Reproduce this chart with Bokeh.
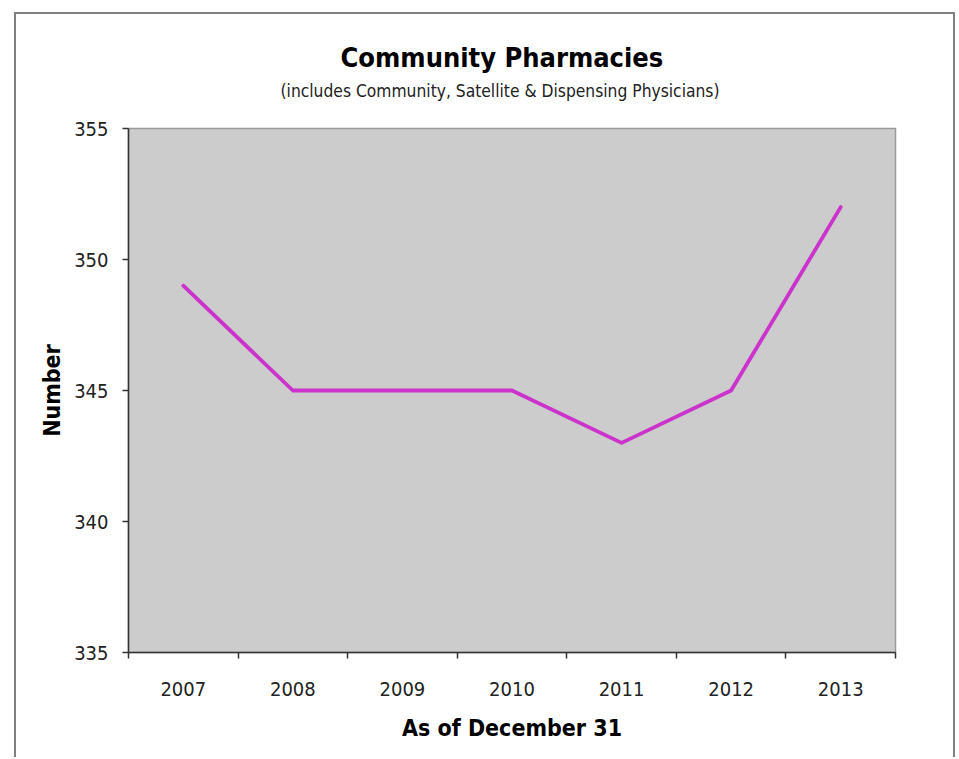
from bokeh.plotting import figure
from bokeh.models import Range1d, FixedTicker, Title
from bokeh.embed import file_html
from bokeh.resources import INLINE

# ---- data ----
years = ["2007", "2008", "2009", "2010", "2011", "2012", "2013"]
counts = [349, 345, 345, 345, 343, 345, 352]
y_ticks = [335, 340, 345, 350, 355]
title_text = "Community Pharmacies"
subtitle_text = "(includes Community, Satellite & Dispensing Physicians)"
x_title = "As of December 31"
y_title = "Number"

FONT = "'DejaVu Sans Condensed', 'Liberation Sans', sans-serif"

n = len(years)
x_pos = [i + 0.5 for i in range(n)]
boundaries = list(range(n + 1))

p = figure(
    frame_width=767, frame_height=524,
    x_range=Range1d(0, n), y_range=Range1d(y_ticks[0], y_ticks[-1]),
    output_backend="svg", toolbar_location=None,
    min_border_left=112, min_border_right=58,
    min_border_top=114, min_border_bottom=105,
)
p.margin = (12, 0, 0, 14)
p.styles = {"border": "2px solid #808080", "border-bottom": "none"}
p.background_fill_color = "#cccccc"
p.border_fill_color = "white"
p.outline_line_color = "#9a9a9a"
p.outline_line_width = 1.5
p.xgrid.visible = False
p.ygrid.visible = False

p.line(x_pos, counts, line_color="#cc33cc", line_width=3.8,
       line_cap="round", line_join="round")

# x axis: labels at category centres, ticks at boundaries
xa = p.xaxis[0]
xa.ticker = FixedTicker(ticks=x_pos, minor_ticks=boundaries)
xa.major_label_overrides = {x: y for x, y in zip(x_pos, years)}
xa.major_tick_line_color = None
xa.minor_tick_line_color = "#333333"
xa.minor_tick_line_width = 1.5
xa.minor_tick_out = 6
xa.minor_tick_in = 0
xa.major_label_standoff = 23
xa.axis_label = x_title
xa.axis_label_standoff = 16

ya = p.yaxis[0]
ya.ticker = FixedTicker(ticks=y_ticks)
ya.minor_tick_line_color = None
ya.major_tick_line_color = "#333333"
ya.major_tick_line_width = 1.5
ya.major_tick_out = 6
ya.major_tick_in = 0
ya.major_label_standoff = 14
ya.axis_label = y_title
ya.axis_label_standoff = 6

for ax in (xa, ya):
    ax.axis_line_color = "#333333"
    ax.axis_line_width = 1.5
    ax.major_label_text_font = FONT
    ax.major_label_text_font_size = "20px"
    ax.major_label_text_color = "#222222"
    ax.axis_label_text_font = FONT
    ax.axis_label_text_font_size = "23px"
    ax.axis_label_text_font_style = "bold"
    ax.axis_label_text_color = "#000000"

# titles (stacked above the frame: spacer, subtitle, main title)
p.add_layout(Title(text=" ", text_font_size="10px", standoff=15), "above")
p.add_layout(Title(text=subtitle_text, align="left", offset=152,
                   text_font=FONT, text_font_size="17.3px",
                   text_font_style="normal", text_color="#222222",
                   standoff=0), "above")

p.title.text = title_text
p.title.align = "left"
p.title.offset = 212
p.title.text_font = FONT
p.title.text_font_size = "27px"
p.title.text_font_style = "bold"
p.title.text_color = "#000000"
p.title.standoff = 12

open("out.html", "w").write(file_html(p, INLINE))
